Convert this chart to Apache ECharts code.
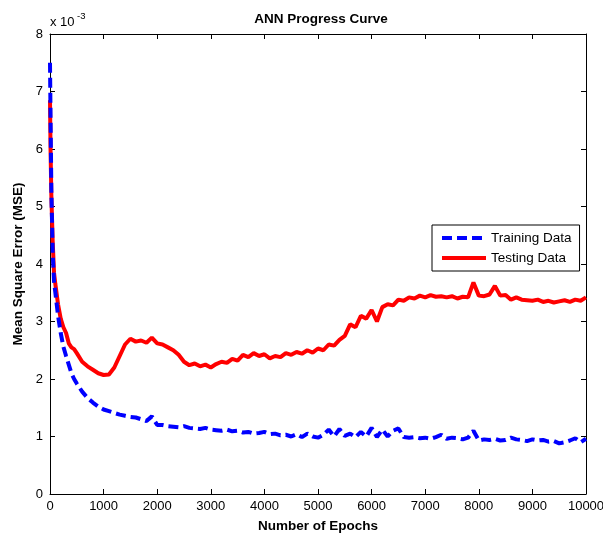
<!DOCTYPE html>
<html><head><meta charset="utf-8">
<script src="https://cdn.jsdelivr.net/npm/echarts@6/dist/echarts.min.js"></script>
<style>html,body{margin:0;padding:0;background:#fff}#c{width:603px;height:536px}</style>
</head><body><div id="c"></div>
<script>
const epochs = [0,10,25,50,75,100,150,200,250,300,350,400,450,500,
600,700,800,900,1000,1100,1200,1300,1400,1500,1600,1700,1800,1900,2000,
2100,2200,2300,2400,2500,2600,2700,2800,2900,3000,
3100,3200,3300,3400,3500,3600,3700,3800,3900,4000,
4100,4200,4300,4400,4500,4600,4700,4800,4900,5000,
5100,5200,5300,5400,5500,5600,5700,5800,5900,6000,
6100,6200,6300,6400,6500,6600,6700,6800,6900,7000,
7100,7200,7300,7400,7500,7600,7700,7800,7900,8000,
8100,8200,8300,8400,8500,8600,8700,8800,8900,9000,
9100,9200,9300,9400,9500,9600,9700,9800,9900,10000];
const trainingMSE = [7.5,6.6,5.3,4.2,3.7,3.5,3.1,2.8,2.56,2.4,2.25,2.1,2.0,1.92,
1.78,1.67,1.59,1.52,1.47,1.44,1.41,1.38,1.36,1.34,1.33,1.3,1.27,1.35,1.2,
1.2,1.18,1.17,1.16,1.18,1.15,1.14,1.13,1.15,1.12,
1.11,1.1,1.12,1.09,1.1,1.07,1.08,1.05,1.06,1.08,
1.04,1.05,1.02,1.03,1.0,1.04,0.99,1.05,1.0,0.98,
1.03,1.12,1.0,1.13,1.01,1.05,0.99,1.08,1.0,1.15,
0.99,1.12,1.0,1.1,1.14,0.99,0.98,0.99,0.97,0.98,
0.96,0.99,1.03,0.96,0.98,0.97,0.95,0.98,1.1,0.93,
0.95,0.94,0.96,0.93,0.94,0.98,0.95,0.94,0.92,0.95,
0.93,0.94,0.91,0.92,0.88,0.9,0.93,0.97,0.9,0.96];
const testingMSE = [6.85,6.0,5.2,4.4,3.85,3.65,3.3,3.05,2.9,2.8,2.62,2.55,2.52,2.45,
2.3,2.22,2.16,2.1,2.07,2.08,2.2,2.4,2.6,2.7,2.65,2.67,2.63,2.72,2.62,
2.6,2.55,2.5,2.42,2.3,2.24,2.27,2.22,2.25,2.2,
2.26,2.3,2.28,2.35,2.32,2.42,2.38,2.45,2.4,2.43,
2.36,2.4,2.38,2.45,2.42,2.47,2.44,2.5,2.46,2.53,
2.5,2.6,2.58,2.68,2.75,2.95,2.9,3.1,3.05,3.2,
3.0,3.25,3.3,3.28,3.38,3.36,3.42,3.4,3.45,3.42,
3.46,3.43,3.44,3.42,3.44,3.4,3.43,3.42,3.68,3.45,
3.44,3.47,3.62,3.45,3.46,3.38,3.42,3.38,3.37,3.36,
3.38,3.34,3.36,3.33,3.35,3.37,3.34,3.38,3.36,3.42];

const font = 'Liberation Sans, Arial, sans-serif';
const chart = echarts.init(document.getElementById('c'));
const hidden = {show:false};
const tickStyle = {inside:true, length:5, lineStyle:{color:'#000'}};
const lineAxis = {onZero:false, lineStyle:{color:'#000', width:1}};
chart.setOption({
  animation:false,
  backgroundColor:'#fff',
  title:{text:'ANN Progress Curve', left:316, top:7, textAlign:'center',
    textStyle:{fontFamily:font, fontSize:13.5, fontWeight:'bold', color:'#000'}},
  grid:{left:50, right:17, top:34, bottom:42, containLabel:false, outerBoundsMode:'none'},
  legend:{
    orient:'vertical', left:432, top:225,
    backgroundColor:'#fff', borderColor:'#000', borderWidth:1,
    padding:[6,8,6,8], itemGap:6, itemWidth:44, itemHeight:14,
    itemStyle:{opacity:0},
    lineStyle:{width:4},
    textStyle:{fontFamily:font, fontSize:13.5, color:'#000'},
    data:['Training Data','Testing Data']
  },
  xAxis:[
    {type:'value', min:0, max:10000, interval:1000, position:'bottom',
     name:'Number of Epochs', nameLocation:'middle', nameGap:25,
     nameTextStyle:{fontFamily:font, fontSize:13.5, fontWeight:'bold', color:'#000'},
     axisLine:lineAxis, axisTick:tickStyle,
     axisLabel:{fontFamily:font, fontSize:13, color:'#000', margin:6, formatter:v=>String(v)},
     splitLine:hidden},
    {type:'value', min:0, max:10000, interval:1000, position:'top',
     axisLine:lineAxis, axisTick:tickStyle, axisLabel:hidden, splitLine:hidden}
  ],
  yAxis:[
    {type:'value', min:0, max:8, interval:1, position:'left',
     name:'Mean Square Error (MSE)', nameLocation:'middle', nameGap:22, nameRotate:90,
     nameTextStyle:{fontFamily:font, fontSize:13.5, fontWeight:'bold', color:'#000'},
     axisLine:lineAxis, axisTick:tickStyle,
     axisLabel:{fontFamily:font, fontSize:13, color:'#000', margin:7, formatter:v=>String(v)},
     splitLine:hidden},
    {type:'value', min:0, max:8, interval:1, position:'right',
     axisLine:lineAxis, axisTick:tickStyle, axisLabel:hidden, splitLine:hidden}
  ],
  graphic:[{
    type:'text', left:50, top:16,
    style:{text:'x 10', fontFamily:font, fontSize:13, fill:'#000'}
  },{
    type:'text', left:77, top:11,
    style:{text:'-3', fontFamily:font, fontSize:9.5, fill:'#000'}
  }],
  series:[
    {name:'Training Data', type:'line', symbol:'none', z:3,
     data:epochs.map((e,i)=>[e,trainingMSE[i]]),
     lineStyle:{color:'#0000ff', width:4, type:[10,5]},
     itemStyle:{color:'#0000ff'}},
    {name:'Testing Data', type:'line', symbol:'none', z:2,
     data:epochs.map((e,i)=>[e,testingMSE[i]]),
     lineStyle:{color:'#ff0000', width:4},
     itemStyle:{color:'#ff0000'}}
  ]
});
</script></body></html>
